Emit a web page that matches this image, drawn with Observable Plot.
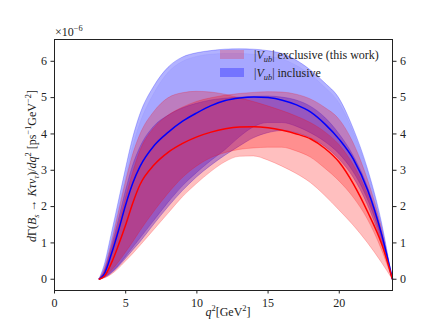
<!DOCTYPE html>
<html><head><meta charset="utf-8">
<script src="https://cdn.jsdelivr.net/npm/d3@7"></script>
<script src="https://cdn.jsdelivr.net/npm/@observablehq/plot@0.6"></script>
<style>body{margin:0;background:#fff}#chart{width:436px;height:327px}</style>
</head><body><div id="chart"></div>
<script>
// q^2 grid (GeV^2)
const q2 = [3.16, 3.5, 4, 4.5, 5, 5.5, 6, 7, 8, 9, 10, 11, 12, 13, 14, 15, 16, 17, 18, 19, 20, 21, 22, 23, 23.74];
// central curves (x 1e-6)
const blueCentral = [0, 0.15, 0.7, 1.35, 2.05, 2.65, 3.1, 3.68, 4.05, 4.35, 4.58, 4.78, 4.92, 4.99, 5.02, 5.0, 4.93, 4.8, 4.6, 4.27, 3.85, 3.3, 2.45, 1.2, 0];
const redCentral = [0, 0.08, 0.45, 0.95, 1.5, 2.1, 2.6, 3.15, 3.5, 3.74, 3.92, 4.05, 4.14, 4.19, 4.2, 4.17, 4.1, 4.0, 3.86, 3.6, 3.22, 2.62, 1.85, 0.95, 0];
// inclusive |Vub| bands
const blueUpA = [0, 0.35, 1.2, 2.1, 3.0, 3.85, 4.5, 5.3, 5.82, 6.1, 6.22, 6.28, 6.32, 6.33, 6.32, 6.28, 6.2, 6.02, 5.75, 5.4, 4.98, 4.15, 3.05, 1.55, 0];
const blueLowA = [0, 0.03, 0.15, 0.33, 0.55, 0.78, 1.0, 1.5, 1.98, 2.42, 2.8, 3.12, 3.4, 3.65, 3.88, 4.02, 4.08, 4.02, 3.88, 3.65, 3.3, 2.8, 2.05, 1.0, 0];
const blueUpF = [0, 0.3, 1.05, 1.9, 2.75, 3.6, 4.25, 5.1, 5.68, 5.98, 6.12, 6.18, 6.2, 6.2, 6.18, 6.13, 6.05, 5.88, 5.62, 5.28, 4.85, 4.05, 2.98, 1.5, 0];
const blueUpB = [0, 0.2, 0.85, 1.6, 2.4, 3.1, 3.6, 4.2, 4.5, 4.7, 4.83, 4.92, 4.97, 5.0, 5.02, 5.03, 5.0, 4.92, 4.75, 4.45, 4.0, 3.4, 2.55, 1.3, 0];
const blueLowB = [0, 0.04, 0.17, 0.36, 0.6, 0.85, 1.1, 1.6, 2.1, 2.55, 2.92, 3.25, 3.55, 3.9, 4.18, 4.3, 4.3, 4.2, 4.02, 3.78, 3.45, 2.95, 2.2, 1.1, 0];
// exclusive |Vub| bands
const redUpA = [0, 0.25, 0.95, 1.8, 2.65, 3.4, 3.95, 4.6, 4.98, 5.12, 5.16, 5.14, 5.08, 4.98, 4.88, 4.76, 4.63, 4.48, 4.3, 4.05, 3.7, 3.15, 2.35, 1.2, 0];
const redLowA = [0, 0.02, 0.12, 0.28, 0.48, 0.68, 0.9, 1.35, 1.8, 2.25, 2.62, 2.95, 3.22, 3.37, 3.38, 3.27, 3.1, 2.9, 2.65, 2.3, 1.9, 1.48, 1.0, 0.45, 0];
const redUpB = [0, 0.18, 0.75, 1.45, 2.2, 2.9, 3.5, 4.15, 4.5, 4.72, 4.88, 4.98, 5.05, 5.1, 5.13, 5.15, 5.14, 5.08, 4.95, 4.72, 4.4, 3.75, 2.75, 1.4, 0];
const redLowB = [0, 0.05, 0.22, 0.45, 0.72, 1.0, 1.3, 1.85, 2.35, 2.78, 3.1, 3.33, 3.47, 3.56, 3.6, 3.62, 3.62, 3.52, 3.35, 3.05, 2.7, 2.25, 1.65, 0.8, 0];

const xTicks = [0, 5, 10, 15, 20];
const yTicks = [0, 1, 2, 3, 4, 5, 6];
const legendLabels = ["exclusive (this work)", "inclusive"];

const band = (lo, hi, color, op) => Plot.areaY(q2, {x: q2, y1: lo, y2: hi, fill: color, fillOpacity: op, stroke: color, strokeOpacity: op, strokeWidth: 0.8, curve: "monotone-x"});
const fmt = d => String(d);

const plot = Plot.plot({
  width: 436, height: 327,
  marginLeft: 54, marginRight: 44, marginTop: 39, marginBottom: 37,
  style: {fontFamily: "'Liberation Serif', serif", fontSize: "12px", background: "white", color: "#222"},
  x: {domain: [0, 23.74]},
  y: {domain: [-0.31, 6.6]},
  marks: [
    band(blueLowA, blueUpA, "blue", 0.3),
    band(blueLowA, blueUpF, "blue", 0.06),
    band(blueLowB, blueUpB, "blue", 0.3),
    band(redLowA, redUpA, "red", 0.25),
    band(redLowB, redUpB, "red", 0.25),
    Plot.lineY(q2, {x: q2, y: blueCentral, stroke: "blue", strokeWidth: 1.5, curve: "monotone-x"}),
    Plot.lineY(q2, {x: q2, y: redCentral, stroke: "red", strokeWidth: 1.5, curve: "monotone-x"}),
    Plot.axisX({ticks: xTicks, tickSize: 3.5, tickPadding: 4, tickFormat: fmt, label: null}),
    Plot.axisY({anchor: "left", ticks: yTicks, tickSize: 3.5, tickPadding: 4, tickFormat: fmt, label: null}),
    Plot.axisY({anchor: "right", ticks: yTicks, tickSize: 3.5, tickPadding: 4, tickFormat: fmt, label: null}),
    Plot.frame({stroke: "#222", strokeWidth: 1})
  ]
});
document.getElementById("chart").appendChild(plot);

const svg = d3.select(plot);
const FONT = "'Liberation Serif', serif";
function rich(g, parts, size, center) {
  const t = g.append("text").attr("font-family", FONT).attr("font-size", size)
    .attr("fill", "#222").attr("text-anchor", "start");
  let shift = 0;
  for (const p of parts) {
    const s = p.s || 0;
    const ts = t.append("tspan").text(p.t).attr("text-anchor", "start");
    if (p.i) ts.attr("font-style", "italic");
    if (s !== shift) { ts.attr("dy", s - shift); shift = s; }
    if (s !== 0) ts.attr("font-size", size * 0.7);
  }
  if (center) {
    const len = t.node().getComputedTextLength();
    t.attr("x", -len / 2);
  }
  return t;
}
// offset text
rich(svg.append("g").attr("transform", "translate(55,36)"), [{t: "×10"}, {t: "−6", s: -5}], 12);
// x label
rich(svg.append("g").attr("transform", "translate(228,316)"), [{t: "q", i: 1}, {t: "2", s: -5}, {t: "[GeV"}, {t: "2", s: -5}, {t: "]"}], 12, true);
// y label
rich(svg.append("g").attr("transform", "translate(36,166) rotate(-90)"), [
  {t: "d", i: 1}, {t: "Γ("}, {t: "B", i: 1}, {t: "s", i: 1, s: 3}, {t: " → "}, {t: "Kτν", i: 1}, {t: "τ", i: 1, s: 3},
  {t: ")/"}, {t: "dq", i: 1}, {t: "2", s: -5}, {t: " [ps"}, {t: "−1", s: -5}, {t: "GeV"}, {t: "−2", s: -5}, {t: "]"}
], 12, true);
// legend
const lg = svg.append("g");
const legendColors = [["red", 0.22], ["blue", 0.3]];
legendLabels.forEach((lab, k) => {
  const y = 50 + k * 18;
  lg.append("rect").attr("x", 220).attr("y", y).attr("width", 24).attr("height", 9)
    .attr("fill", legendColors[k][0]).attr("fill-opacity", legendColors[k][1]);
  rich(lg.append("g").attr("transform", `translate(254,${y + 8.5})`), [
    {t: "|"}, {t: "V", i: 1}, {t: "ub", i: 1, s: 3}, {t: "| " + lab}
  ], 12);
});
</script></body></html>
